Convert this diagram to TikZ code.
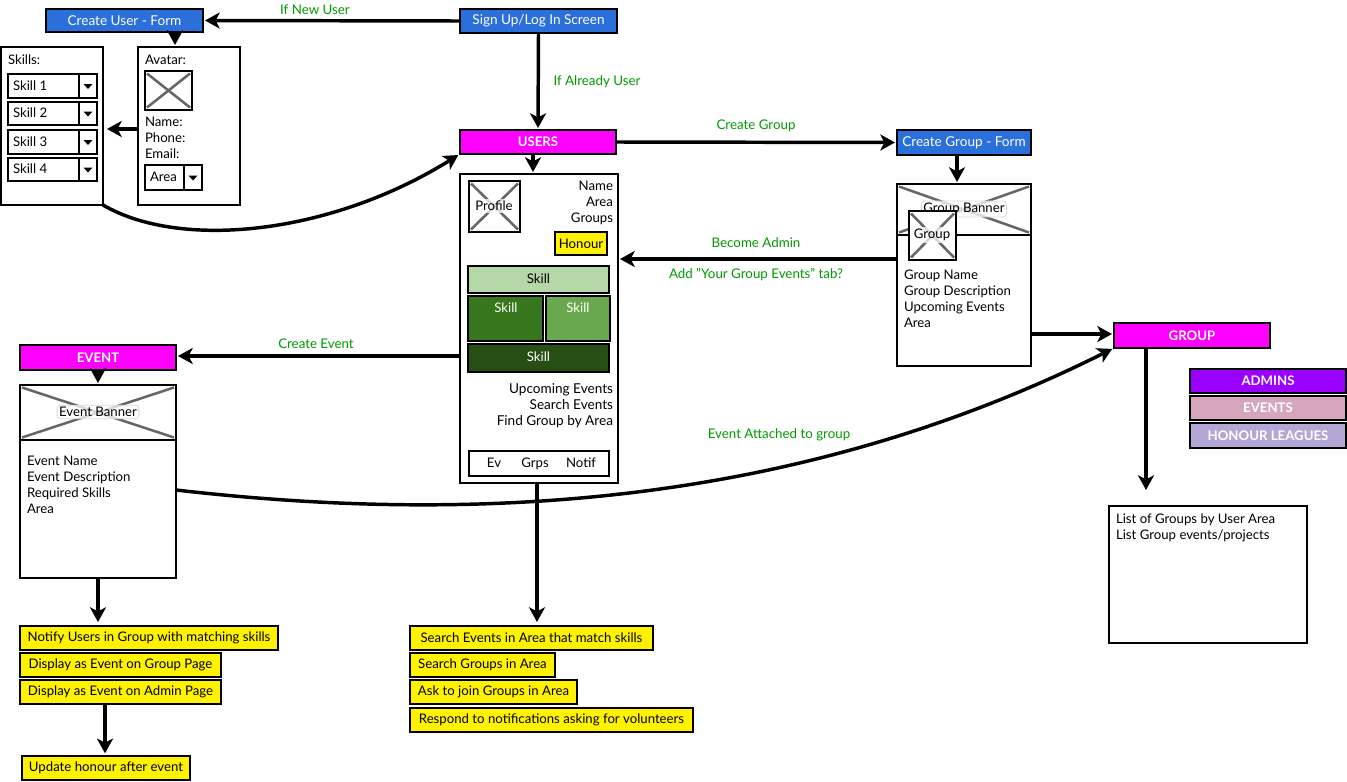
\documentclass[tikz,border=0pt]{standalone}
\usepackage{fontspec}
\setmainfont{Lato}
\usetikzlibrary{arrows.meta,calc}
\definecolor{hdrblue}{HTML}{2B6FDB}
\definecolor{hdrmag}{HTML}{FF00FF}
\definecolor{legpur}{HTML}{9900FF}
\definecolor{legev}{HTML}{D5A6BD}
\definecolor{leghon}{HTML}{B4A7D6}
\definecolor{skA}{HTML}{B6D7A8}
\definecolor{skB}{HTML}{38761D}
\definecolor{skC}{HTML}{6AA84F}
\definecolor{skD}{HTML}{274E13}
\definecolor{lblgreen}{HTML}{009900}
\definecolor{xgray}{HTML}{666666}
\tikzset{
  x=0.75pt,y=-0.75pt,
  base/.style={draw=black,line width=2.2pt,rectangle,inner sep=0pt,outer sep=0pt,font=\fontsize{9.9}{12}\selectfont,align=center},
  panel/.style={base,fill=white},
  blue/.style={base,fill=hdrblue,text=white,font=\fontsize{10.2}{12}\selectfont},
  mag/.style={base,fill=hdrmag,text=white,font=\fontsize{9.9}{12}\selectfont\bfseries},
  yel/.style={base,fill=yellow},
  leg/.style={base,text=white,font=\fontsize{9.9}{12}\selectfont\bfseries},
  thin box/.style={base,line width=1.9pt,fill=white},
  txt/.style={inner sep=0pt,outer sep=0pt,font=\fontsize{9.9}{12}\selectfont,align=left},
  wide txt/.style={txt,font=\fontsize{10.2}{12}\selectfont},
  lbl/.style={inner sep=0pt,outer sep=0pt,font=\fontsize{10}{12}\selectfont,text=lblgreen},
  arr/.style={draw=black,line width=2.6pt,shorten >=1.5pt,-{Stealth[length=11pt,width=12pt,inset=3pt]}},
  xline/.style={draw=xgray,line width=1.9pt},
  tag/.style={inner sep=1.5pt,outer sep=0pt,rounded corners=2.5pt,fill=white,fill opacity=.75,text opacity=1,draw=black!15,line width=.6pt,font=\fontsize{9.9}{12}\selectfont},
  band/.style={inner xsep=1.5pt,inner ysep=1.5pt,fill=white,fill opacity=.75,text opacity=1,font=\fontsize{9.9}{12}\selectfont},
}
\newcommand{\bx}[7][]{%
  \pgfmathsetmacro\bxW{(#5-#3)*0.75}\pgfmathsetmacro\bxH{(#6-#4)*0.75}%
  \pgfmathsetmacro\bxX{(#5+#3)/2}\pgfmathsetmacro\bxY{(#6+#4)/2}%
  \node[#1,minimum width=\bxW pt,minimum height=\bxH pt] (#2) at (\bxX,\bxY) {#7};}
\newcommand{\crossme}[1]{%
  \draw[xline] ($(#1.north west)+(2,2.5)$) -- ($(#1.south east)+(-2,-2.5)$);
  \draw[xline] ($(#1.south west)+(2,-2.5)$) -- ($(#1.north east)+(-2,2.5)$);}
\newcommand{\dd}[7]{% name x1 y1 x2 y2 xdiv text
  \bx[thin box]{#1}{#2}{#3}{#6}{#5}{}
  \bx[thin box]{#1a}{#6}{#3}{#4}{#5}{}
  \node[txt,anchor=west] (#1t) at (#2+5,{(#3+#5)/2-0.5}) {#7};
  \fill (#1a.center) ++(-4.5,-2) -- ++(9,0) -- ++(-4.5,5) -- cycle;}
\begin{document}
\begin{tikzpicture}
\useasboundingbox (0,0) rectangle (1347,782);
% top row
\bx[blue]{cuform}{46}{9}{203}{32}{Create User - Form}
\bx[blue]{signup}{460}{9}{617}{33}{Sign Up/Log In Screen}
% create user panels
\bx[panel]{skills}{1}{47}{103}{205}{}
\node[txt,anchor=west] (skillst) at (8,60) {Skills:};
\dd{skA}{8}{74}{97}{98}{79}{Skill 1}
\dd{skBb}{8}{102}{97}{125}{79}{Skill 2}
\dd{skCc}{8}{130}{97}{154}{79}{Skill 3}
\dd{skDd}{8}{158}{97}{181}{79}{Skill 4}
\bx[panel]{avatar}{138}{47}{240}{205}{}
\node[txt,anchor=west] (avt) at (145,60) {Avatar:};
\bx[panel]{avimg}{145}{71}{192}{110}{}
\crossme{avimg}
\node[txt,anchor=north west] (avf) at (145,117.5) {Name:\\Phone:\\Email:};
\dd{area}{145}{165}{202}{190}{184}{Area}
% users
\bx[mag]{users}{460}{130}{616}{154}{USERS}
\bx[panel]{profile}{460}{174}{618}{483}{}
\bx[panel]{profimg}{469}{181}{520}{232}{}
\crossme{profimg}
\node[band] (proft) at (494,206) {Profile};
\node[txt,anchor=north east,align=right] (profinfo) at (613,181) {Name\\Area\\Groups};
\bx[yel]{honour}{555}{232}{607}{255}{Honour}
\bx[base,fill=skA]{skilla}{468}{266}{609}{293}{\raisebox{1.5pt}{Skill}}
\bx[base,fill=skB]{skillb}{468}{296}{543}{341}{}
\bx[base,fill=skC]{skillc}{546}{296}{610}{341}{}
\bx[base,fill=skD,text=white]{skilld}{468}{344}{609}{372}{\raisebox{1.5pt}{Skill}}
\node[txt,text=white] (skillbt) at (506,308) {Skill};
\node[txt,text=white] (skillct) at (578,308) {Skill};
\node[wide txt,anchor=north east,align=right] (profev) at (613,384) {Upcoming Events\\Search Events\\Find Group by Area};
\bx[panel]{tabs}{469}{451}{609}{476}{}
\node[txt,anchor=base] (tabev) at (494,467) {Ev};
\node[txt,anchor=base] (tabgr) at (535,467) {Grps};
\node[txt,anchor=base] (tabno) at (581,467) {Notif};
% group
\bx[blue]{cgform}{897}{130}{1031}{155}{Create Group - Form}
\bx[panel]{grouppanel}{897}{184}{1031}{366}{}
\bx[panel]{gbanner}{897}{184}{1031}{235}{}
\crossme{gbanner}
\node[tag] (gbt) at (964,209) {Group Banner};
\bx[panel]{gimg}{909}{211}{956}{260}{}
\crossme{gimg}
\node[band] (gimgt) at (932,235) {Group};
\node[txt,anchor=north west] (ginfo) at (904,270) {Group Name\\Group Description\\Upcoming Events\\Area};
\bx[mag]{group}{1114}{323}{1270}{348}{GROUP}
\bx[leg,fill=legpur]{admins}{1190}{369}{1346}{393}{ADMINS}
\bx[leg,fill=legev]{events}{1190}{396}{1346}{420}{EVENTS}
\bx[leg,fill=leghon]{honleg}{1190}{423}{1346}{448}{HONOUR LEAGUES}
\bx[base,fill=white,line width=2pt]{listbox}{1109}{506}{1307}{643}{}
\node[txt,anchor=north west] (listt) at (1116,514) {List of Groups by User Area\\List Group events/projects};
% event
\bx[mag]{event}{20}{345}{176}{370}{EVENT}
\bx[panel]{eventpanel}{20}{385}{176}{578}{}
\bx[panel]{ebanner}{20}{385}{176}{440}{}
\crossme{ebanner}
\node[tag] (ebt) at (98,412) {Event Banner};
\node[txt,anchor=north west] (einfo) at (27,456) {Event Name\\Event Description\\Required Skills\\Area};
% yellow lists
\bx[yel]{yA}{20}{626}{278}{650}{Notify Users in Group with matching skills}
\bx[yel]{yB}{20}{653}{221}{677}{Display as Event on Group Page}
\bx[yel]{yC}{20}{680}{221}{704}{Display as Event on Admin Page}
\bx[yel]{yD}{22}{756}{190}{780}{Update honour after event}
\bx[yel]{zA}{410}{626}{653}{650}{Search Events in Area that match skills}
\bx[yel]{zB}{410}{653}{555}{677}{Search Groups in Area}
\bx[yel]{zC}{410}{680}{577}{704}{Ask to join Groups in Area}
\bx[yel]{zD}{410}{708}{693}{732}{Respond to notifications asking for volunteers}
% labels
\node[lbl] (l1) at (315,10) {If New User};
\node[lbl] (l2) at (597,81.5) {If Already User};
\node[lbl] (l3) at (756,126) {Create Group};
\node[lbl] (l4) at (756,243) {Become Admin};
\node[lbl] (l5) at (756,274.5) {Add "Your Group Events" tab?};
\node[lbl] (l6) at (316,344) {Create Event};
\node[lbl] (l7) at (779,434.5) {Event Attached to group};
% connectors
\draw[arr] (signup.west) -- (cuform.east);
\draw[arr] (signup.south) -- (users.north);
\draw[arr] (cuform.south -| 175,0) -- (avatar.north -| 175,0);
\draw[arr,shorten >=3pt] (avatar.west |- 0,129) -- (skills.east |- 0,129);
\draw[arr] (skills.south east) .. controls (180,250) and (330,235) .. (users.south west);
\draw[arr] (users.east) -- (cgform.west);
\draw[arr] (users.south -| 533,0) -- (profile.north -| 533,0);
\draw[arr] (cgform.south -| 957,0) -- (grouppanel.north -| 957,0);
\draw[arr] (grouppanel.west |- 0,259) -- (profile.east |- 0,259);
\draw[arr] (grouppanel.east |- 0,334) -- (group.west |- 0,334);
\draw[arr] (profile.west |- 0,356) -- (event.east |- 0,356);
\draw[arr] (event.south -| 98,0) -- (ebanner.north -| 98,0);
\draw[arr] (eventpanel.east |- 0,490) .. controls (480,525) and (800,505) .. (group.south west);
\draw[arr,shorten >=12pt] (group.south -| 1146,0) -- (listbox.north -| 1146,0);
\draw[arr,shorten >=3pt] (eventpanel.south -| 98,0) -- (yA.north -| 98,0);
\draw[arr,shorten >=2pt] (yC.south -| 105,0) -- (yD.north -| 105,0);
\draw[arr,shorten >=3pt] (profile.south -| 537,0) -- (zA.north -| 537,0);
\end{tikzpicture}
\end{document}
